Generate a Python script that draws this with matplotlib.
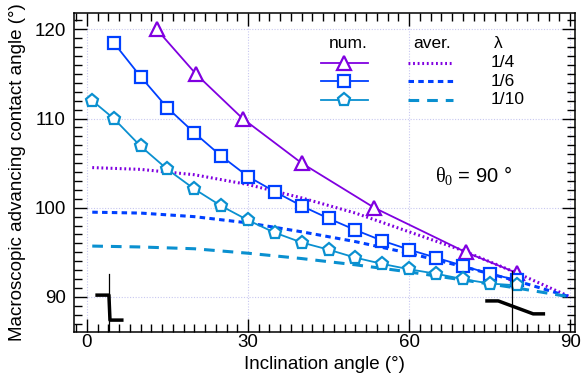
import numpy as np
import matplotlib.pyplot as plt
from matplotlib.ticker import MultipleLocator

plt.rcParams['font.family'] = ['Liberation Sans', 'DejaVu Sans']
plt.rcParams['mathtext.fontset'] = 'custom'
plt.rcParams['mathtext.rm'] = 'Liberation Serif'
plt.rcParams['mathtext.it'] = 'Liberation Serif'

# numerical results (markers)
x_q4 = [13.0, 20.3, 29.0, 40.0, 53.5, 70.6, 80.0]
y_q4 = [120.0, 115.0, 110.0, 105.0, 100.0, 95.0, 92.7]

x_q6 = [5, 10, 15, 20, 25, 30, 35, 40, 45, 50, 55, 60, 65, 70, 75, 80]
y_q6 = [118.5, 114.7, 111.2, 108.4, 105.8, 103.5, 101.8, 100.2,
        98.8, 97.5, 96.3, 95.3, 94.4, 93.5, 92.6, 91.9]

x_q10 = [1, 5, 10, 15, 20, 25, 30, 35, 40, 45, 50, 55, 60, 65, 70, 75, 80]
y_q10 = [112.0, 110.0, 106.9, 104.3, 102.1, 100.2, 98.6, 97.2, 96.1,
         95.3, 94.4, 93.7, 93.1, 92.6, 92.0, 91.5, 91.3]

# averaged curves
x_av = [1, 10, 20, 30, 40, 50, 60, 70, 80, 90]
y_av4 = [104.5, 104.3, 103.7, 102.6, 101.1, 99.4, 97.3, 95.2, 92.7, 90.0]
y_av6 = [99.5, 99.4, 99.0, 98.3, 97.3, 96.2, 94.9, 93.4, 91.8, 90.0]
y_av10 = [95.7, 95.6, 95.4, 94.9, 94.3, 93.6, 92.8, 91.9, 91.0, 90.0]

# black step marks
x_stepL = [1.9, 4.1, 4.3, 6.5]
y_stepL = [90.2, 90.2, 87.4, 87.4]
x_stepR = [74.5, 76.6, 83.1, 85.0]
y_stepR = [89.55, 89.55, 88.1, 88.1]
x_vlines = [4.1, 79.2]
y_vtops = [92.6, 92.9]

c4, c6, c10 = '#8000e0', '#0040ff', '#0a90d0'

fig = plt.figure(figsize=(5.85, 3.9), dpi=100)
ax = fig.add_axes([0.1265, 0.1495, 0.8565, 0.8164])

for v in [0, 30, 60, 90]:
    ax.axvline(v, color='#c8c8f0', lw=0.8, ls=(0, (1, 1.5)), zorder=0)
for v in [90, 100, 110, 120]:
    ax.axhline(v, color='#c8c8f0', lw=0.8, ls=(0, (1, 1.5)), zorder=0)

ax.plot(x_av, y_av4, color=c4, lw=2.2, ls=(0, (0.6, 0.9)))
ax.plot(x_av, y_av6, color=c6, lw=2.2, ls=(0, (1.8, 1.4)))
ax.plot(x_av, y_av10, color=c10, lw=2.2, ls=(0, (3.5, 2.6)))

ax.plot(x_q4, y_q4, color=c4, lw=1.3, marker='^', ms=10, mfc='white', mew=1.6)
ax.plot(x_q6, y_q6, color=c6, lw=1.3, marker='s', ms=9, mfc='white', mew=1.6)
ax.plot(x_q10, y_q10, color=c10, lw=1.3, marker='p', ms=9.5, mfc='white', mew=1.6)

ax.plot(x_stepL, y_stepL, color='black', lw=2.5)
ax.plot(x_stepR, y_stepR, color='black', lw=2.5)
for xv, yt in zip(x_vlines, y_vtops):
    ax.plot([xv, xv], [80, yt], color='black', lw=0.9)

# legend drawn by hand
lam = ['1/4', '1/6', '1/10']
rows = [0.845, 0.786, 0.728]
styles = [('^', c4, (0, (0.6, 0.9)), 10), ('s', c6, (0, (1.8, 1.4)), 9),
          ('p', c10, (0, (3.5, 2.6)), 9.5)]
tr = ax.transAxes
ax.text(0.547, 0.904, 'num.', transform=tr, ha='center', va='center', fontsize=12.5)
ax.text(0.715, 0.904, 'aver.', transform=tr, ha='center', va='center', fontsize=12.5)
ax.text(0.846, 0.904, 'λ', transform=tr, ha='center', va='center', fontsize=12.5)
for (m, c, ls, ms), yr, lab in zip(styles, rows, lam):
    ax.plot([0.492, 0.587], [yr, yr], color=c, lw=1.3, transform=tr)
    ax.plot([0.539], [yr], color=c, marker=m, ms=ms, mfc='white', mew=1.6, transform=tr)
    ax.plot([0.666, 0.756], [yr, yr], color=c, lw=2.2, ls=ls, transform=tr)
    ax.text(0.832, yr, lab, transform=tr, ha='left', va='center', fontsize=12.5)

ax.text(64.8, 103.6, r'$\theta_0$ = 90 °', ha='left', va='center', fontsize=14.5)

ax.set_xlim(-2.4, 90.9)
ax.set_ylim(86.1, 121.8)
ax.xaxis.set_major_locator(MultipleLocator(30))
ax.xaxis.set_minor_locator(MultipleLocator(2))
ax.yaxis.set_major_locator(MultipleLocator(10))
ax.yaxis.set_minor_locator(MultipleLocator(1))
ax.tick_params(which='both', direction='in', top=True, right=True, labelsize=13.5, width=1.0)
ax.tick_params(which='major', length=9.5)
ax.tick_params(which='minor', length=5.5)
ax.tick_params(axis='x', pad=2)
ax.tick_params(axis='y', pad=6)
for s in ax.spines.values():
    s.set_linewidth(1.1)

ax.set_xlabel('Inclination angle (°)', fontsize=13.5, labelpad=3)
ax.set_ylabel('Macroscopic advancing contact angle (°)', fontsize=13.5, labelpad=6)

fig.savefig('out.png', dpi=100)
